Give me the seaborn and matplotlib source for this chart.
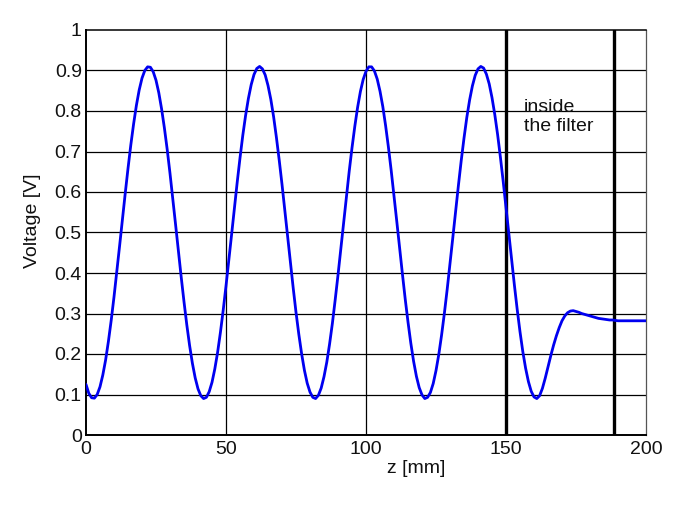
import matplotlib
matplotlib.use("Agg")
import matplotlib.pyplot as plt
import seaborn as sns
import pandas as pd

sns.set_theme(style="white")
plt.rcParams['font.family'] = ['Liberation Sans', 'DejaVu Sans']

# z positions [mm] (1 mm steps) and measured voltage [V]
z_mm = list(range(0, 201))
voltage = [
    0.125, 0.103, 0.092, 0.091, 0.100, 0.119, 0.148, 0.185, 0.231, 0.283,
    0.341, 0.403, 0.467, 0.532, 0.596, 0.658, 0.716, 0.768, 0.814, 0.852,
    0.881, 0.900, 0.909, 0.908, 0.897, 0.876, 0.845, 0.805, 0.758, 0.705,
    0.646, 0.583, 0.519, 0.454, 0.390, 0.329, 0.272, 0.221, 0.177, 0.141,
    0.114, 0.097, 0.090, 0.093, 0.107, 0.130, 0.163, 0.204, 0.253, 0.308,
    0.368, 0.431, 0.495, 0.560, 0.624, 0.684, 0.740, 0.789, 0.831, 0.865,
    0.890, 0.905, 0.910, 0.904, 0.889, 0.863, 0.829, 0.786, 0.735, 0.679,
    0.619, 0.555, 0.490, 0.426, 0.363, 0.303, 0.249, 0.201, 0.160, 0.128,
    0.106, 0.093, 0.090, 0.098, 0.116, 0.144, 0.180, 0.225, 0.276, 0.334,
    0.395, 0.459, 0.524, 0.588, 0.651, 0.709, 0.762, 0.809, 0.848, 0.878,
    0.898, 0.909, 0.909, 0.899, 0.879, 0.849, 0.811, 0.764, 0.711, 0.653,
    0.591, 0.527, 0.462, 0.398, 0.336, 0.279, 0.227, 0.182, 0.145, 0.117,
    0.099, 0.090, 0.093, 0.105, 0.127, 0.159, 0.199, 0.247, 0.301, 0.360,
    0.423, 0.487, 0.552, 0.616, 0.677, 0.733, 0.784, 0.827, 0.862, 0.888,
    0.904, 0.910, 0.906, 0.891, 0.867, 0.833, 0.791, 0.742, 0.686, 0.626,
    0.563, 0.498, 0.433, 0.370, 0.310, 0.255, 0.206, 0.165, 0.132, 0.108,
    0.094, 0.090, 0.097, 0.115, 0.140, 0.168, 0.196, 0.222, 0.245, 0.265,
    0.282, 0.294, 0.302, 0.306, 0.307, 0.305, 0.303, 0.300, 0.298, 0.296,
    0.294, 0.292, 0.290, 0.288, 0.287, 0.286, 0.285, 0.284, 0.284, 0.283,
    0.282, 0.282, 0.282, 0.282, 0.282, 0.282, 0.282, 0.282, 0.282, 0.282,
    0.282,
]

filter_edges = [150, 188.7]
x_ticks = [0, 50, 100, 150, 200]
y_ticks = [0, 0.1, 0.2, 0.3, 0.4, 0.5, 0.6, 0.7, 0.8, 0.9, 1]
y_tick_labels = ["0", "0.1", "0.2", "0.3", "0.4", "0.5", "0.6", "0.7", "0.8", "0.9", "1"]

df = pd.DataFrame({"z": z_mm, "V": voltage})

fig = plt.figure(figsize=(6.84, 5.05), dpi=100)
ax = fig.add_axes([86/684, 1 - 435/505, 560/684, 405/505])

# grid lines (MATLAB style solid black)
for yv in y_ticks[1:-1]:
    ax.axhline(yv, color="black", lw=0.9, zorder=1)
for xv in x_ticks[1:-1]:
    ax.axvline(xv, color="black", lw=0.9, zorder=1)

for xe in filter_edges:
    ax.axvline(xe, color="black", lw=2.4, zorder=2)

sns.lineplot(data=df, x="z", y="V", ax=ax, color="#0000f0", lw=2.0, zorder=3,
             estimator=None, sort=False)

ax.set_xlim(0, 200)
ax.set_ylim(0, 1)
ax.set_xticks(x_ticks)
ax.set_xticklabels([str(t) for t in x_ticks])
ax.set_yticks(y_ticks)
ax.set_yticklabels(y_tick_labels)
ax.tick_params(axis="both", direction="in", length=4, width=0.8, colors="black",
               labelsize=14, pad=3)
ax.tick_params(axis="x", pad=4)
for lbl in ax.get_xticklabels() + ax.get_yticklabels():
    lbl.set_color("#111111")

for side in ["left", "bottom"]:
    ax.spines[side].set_color("black")
    ax.spines[side].set_linewidth(1.4)
ax.spines["top"].set_color("black")
ax.spines["top"].set_linewidth(1.1)
ax.spines["right"].set_color("#555555")
ax.spines["right"].set_linewidth(0.9)

ax.set_xlabel("z [mm]", fontsize=14, color="#111111")
ax.set_ylabel("Voltage [V]", fontsize=14, color="#111111")
ax.xaxis.set_label_coords(0.589, -0.061)
ax.yaxis.set_label_coords(-0.080, 0.53)

ax.text(156.3, 0.83, "inside\nthe filter", fontsize=14, va="top", ha="left",
        linespacing=1.15, zorder=4, color="#111111")

fig.savefig("out.png", dpi=100, facecolor="white")
